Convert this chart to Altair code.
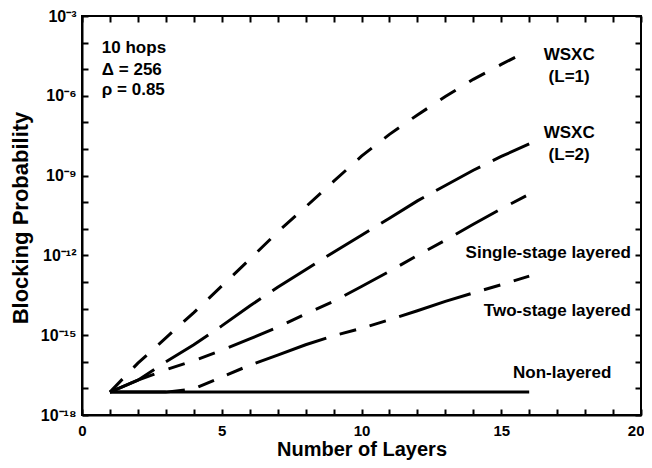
import altair as alt
import pandas as pd

# ---- data (log10 of blocking probability) ----
layers = list(range(1, 17))
series_names = ["WSXC (L=1)", "WSXC (L=2)", "Single-stage layered", "Two-stage layered", "Non-layered"]
wsxc_l1 = [-17.14, -16.05, -15.10, -14.15, -13.15, -12.15, -11.12, -10.18,
           -9.22, -8.27, -7.45, -6.72, -6.03, -5.38, -4.82, -4.28]
wsxc_l2 = [-17.14, -16.69, -16.00, -15.36, -14.65, -13.90, -13.20, -12.54,
           -11.88, -11.24, -10.60, -9.95, -9.37, -8.80, -8.28, -7.81]
single_stage = [-17.14, -16.69, -16.30, -15.96, -15.57, -15.14, -14.70, -14.20,
                -13.73, -13.17, -12.60, -12.00, -11.43, -10.83, -10.25, -9.70]
two_stage = [-17.14, -17.14, -17.14, -17.02, -16.57, -16.13, -15.75, -15.36,
             -15.02, -14.74, -14.42, -14.08, -13.73, -13.41, -13.10, -12.78]
non_layered = [-17.14] * 16

dash_patterns = [[18, 16], [50, 14], [48, 15, 17, 15, 17, 15], [75, 14, 17, 14, 17, 14], [1, 0]]

# annotations: text, x, log10(y)
note_left_text = ["10 hops", "\u0394 = 256", "\u03c1 = 0.85"]
note_left_x = [0.71, 0.71, 0.71]
note_left_y = [-4.2, -5.03, -5.78]
note_center_text = ["WSXC", "(L=1)", "WSXC", "(L=2)", "Non-layered"]
note_center_x = [17.43, 17.43, 17.43, 17.43, 17.18]
note_center_y = [-4.47, -5.29, -7.4, -8.23, -16.42]
note_right_text = ["Single-stage layered", "Two-stage layered"]
note_right_x = [19.64, 19.64]
note_right_y = [-11.91, -14.09]

x_tick_values = list(range(0, 21))
y_tick_exps = list(range(-18, -2))
y_label_exps = [-18, -15, -12, -9, -6, -3]

# ---- tables ----
rows = []
for name, vals in zip(series_names, [wsxc_l1, wsxc_l2, single_stage, two_stage, non_layered]):
    for x, e in zip(layers, vals):
        rows.append({"series": name, "layers": x, "bp": 10.0 ** e})
df = pd.DataFrame(rows)

def notes(t, xs, ys):
    return pd.DataFrame({"text": t, "x": xs, "bp": [10.0 ** e for e in ys]})

FONT = "Liberation Sans"
SUP = str.maketrans("0123456789-", "\u2070\u00b9\u00b2\u00b3\u2074\u2075\u2076\u2077\u2078\u2079\u207b")

label_expr = "''"
for e in y_label_exps:
    label_expr = f"abs(log(datum.value)/LN10 - ({e})) < 0.01 ? '10{str(e).translate(SUP)}' : ({label_expr})"

y_tick_values = [10.0 ** e for e in y_tick_exps]

xscale = alt.Scale(domain=[0, 20], nice=False, zero=False)
yscale = alt.Scale(type="log", domain=[1e-18, 1e-3], nice=False)

label_style = dict(grid=False, labelFont=FONT, labelFontWeight="bold", labelColor="black",
                   titleFont=FONT, titleFontWeight="bold", titleColor="black",
                   domainColor="black", domainWidth=2, ticks=False, labelOverlap=False)

x_bottom = alt.Axis(values=x_tick_values, labelExpr="datum.value % 5 === 0 ? datum.label : ''",
                    labelFontSize=15, labelPadding=8, labelFlush=False,
                    labelAlign={"condition": {"test": "datum.value === 20", "value": "right"}, "value": "center"},
                    labelOffset={"condition": {"test": "datum.value === 20", "value": 3}, "value": 0},
                    title="Number of Layers", titleFontSize=20,
                    titleX=279.5, titleY=34, titleBaseline="middle", titleAlign="center",
                    **label_style)
y_left = alt.Axis(values=y_tick_values, labelExpr=label_expr, labelFlush=False,
                  labelFontSize=16, labelPadding=6, title="Blocking Probability", titleFontSize=22,
                  titleX=-62, titleY=201.5, titleAngle=270, titleBaseline="middle", titleAlign="center",
                  **label_style)

# inward ticks: tick-only axes shifted into the plot by their own length
tick_style = dict(grid=False, domain=False, labels=False, title=None, ticks=True,
                  tickColor="black", tickWidth=2, tickSize=6, offset=-6)

def tick_axis(orient, vals):
    return alt.Axis(orient=orient, values=vals, **tick_style)

lines = alt.Chart(df).mark_line(color="black", strokeWidth=3, strokeCap="butt").encode(
    x=alt.X("layers:Q", scale=xscale, axis=x_bottom),
    y=alt.Y("bp:Q", scale=yscale, axis=y_left),
    strokeDash=alt.StrokeDash("series:N", scale=alt.Scale(domain=series_names, range=dash_patterns),
                              legend=None),
)

ticks_bl = alt.Chart(df).mark_point(opacity=0).encode(
    x=alt.X("layers:Q", scale=xscale, axis=tick_axis("bottom", x_tick_values)),
    y=alt.Y("bp:Q", scale=yscale, axis=tick_axis("left", y_tick_values)),
)
ticks_tr = alt.Chart(df).mark_point(opacity=0).encode(
    x=alt.X("layers:Q", scale=xscale, axis=tick_axis("top", x_tick_values)),
    y=alt.Y("bp:Q", scale=yscale, axis=tick_axis("right", y_tick_values)),
)

def text_layer(d, align):
    return alt.Chart(d).mark_text(align=align, baseline="middle", font=FONT, fontWeight="bold",
                                  fontSize=17, color="black").encode(
        x=alt.X("x:Q", scale=xscale, axis=None),
        y=alt.Y("bp:Q", scale=yscale, axis=None),
        text="text:N")

t_left = text_layer(notes(note_left_text, note_left_x, note_left_y), "left")
t_center = text_layer(notes(note_center_text, note_center_x, note_center_y), "center")
t_right = text_layer(notes(note_right_text, note_right_x, note_right_y), "right")

chart = alt.layer(lines, ticks_bl, ticks_tr, t_left, t_center, t_right).resolve_axis(
    x="independent", y="independent"
).properties(
    width=559, height=399,
    autosize=alt.AutoSizeParams(type="none"),
    padding={"left": 74, "top": 8, "right": 3, "bottom": 45},
).configure_view(stroke="black", strokeWidth=2)

chart.save("out.html", embed_options={"renderer": "svg", "actions": False})
